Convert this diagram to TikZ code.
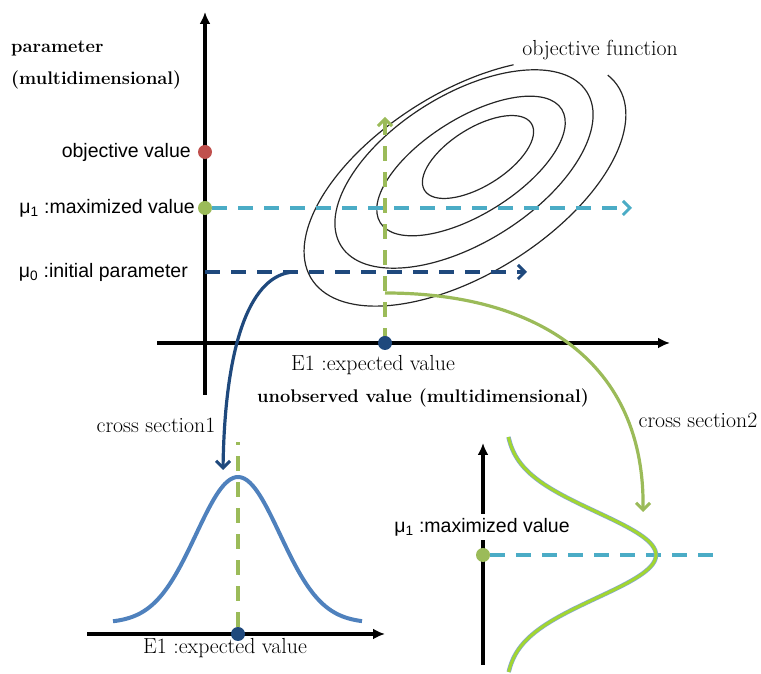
\documentclass[tikz,border=0pt]{standalone}
\usepackage{fontspec}
\usepackage{xcolor}
\usepackage{tikz}
\usetikzlibrary{arrows.meta}
\newfontfamily\labelfont{Liberation Sans}
\definecolor{objred}{HTML}{C0504D}
\definecolor{optgreen}{HTML}{9BBB59}
\definecolor{lightblue}{HTML}{4BACC6}
\definecolor{darkblue}{HTML}{1F497D}
\definecolor{curveblue}{HTML}{4F81BD}
\definecolor{limegreen}{HTML}{A2D630}

\begin{document}
\begin{tikzpicture}[x=1pt,y=1pt,
    axis/.style={line width=3.4pt,-{Latex[length=12pt,width=11pt]}},
    dot/.style={circle,inner sep=0pt,minimum size=14pt},
    dashline/.style={line width=3.4pt,dash pattern=on 15pt off 11pt},
    barb/.style={-{Straight Barb[length=7pt,width=14pt,line width=3pt]}},
    contour/.style={line width=1.2pt,black!85},
    sanslabel/.style={font=\labelfont\fontsize{19.5}{21}\selectfont,inner sep=1pt},
    seriflabel/.style={font=\fontsize{21.8}{24}\selectfont,inner sep=1pt},
    boldlabel/.style={font=\bfseries\fontsize{18.3}{20}\selectfont,inner sep=1pt}]
    \useasboundingbox (0,0) rectangle (761,674);
    % upper picture: parameter against unobserved value
    \begin{scope}
        \coordinate (vbot) at (205,279);
        \coordinate (vtop) at (205,662);
        \coordinate (hleft) at (157,331);
        \coordinate (hright) at (670,331);
        \draw[axis] (vbot) -- (vtop);
        \draw[axis] (hleft) -- (hright);
        \node[boldlabel,anchor=west] (partitle) at (10,626) {parameter};
        \node[boldlabel,anchor=west] (pardim) at (10,594) {(multidimensional)};
        \node[boldlabel] (unobs) at (423,276) {unobserved value (multidimensional)};
        % contours of the objective function
        \foreach \cx/\cy/\a/\b in {478/517/63/29,471/508/107/48,464/505/145/74}
            \draw[contour,rotate around={32:(\cx,\cy)}] (\cx,\cy) ellipse[x radius=\a,y radius=\b];
        \draw[contour,rotate around={32:(465,491)}] (465,491) ++(55:181 and 91)
            arc[start angle=55,end angle=370,x radius=181,y radius=91];
        \node[seriflabel] (objf) at (600,624) {objective function};
        % values on the parameter axis
        \node[dot,fill=objred] (objv) at (205,522) {};
        \node[dot,fill=optgreen] (mu1) at (205,466) {};
        \coordinate (mu0) at (205,402);
        \node[sanslabel,anchor=east] (objvlab) at (192,522) {objective value};
        \node[sanslabel,anchor=east] (mu1lab) at (196,466) {μ\textsubscript{1} :maximized value};
        \node[sanslabel,anchor=east] (mu0lab) at (189,402) {μ\textsubscript{0} :initial parameter};
        \coordinate (mu1end) at (632,466);
        \coordinate (mu0end) at (527,402);
        \draw[dashline,lightblue,barb] (mu1) -- (mu1end);
        \draw[dashline,darkblue,barb] (mu0) -- (mu0end);
        % expected value
        \coordinate (e1top) at (385,557);
        \draw[dashline,optgreen,barb] (385,331) -- (e1top);
        \node[dot,fill=darkblue] (e1) at (385,331) {};
        \node[seriflabel] (e1lab) at (373,309) {E1 :expected value};
        % cross sections
        \coordinate (cs1start) at (294,402);
        \coordinate (cs1end) at (223,204);
        \draw[line width=3.2pt,darkblue,barb] (cs1start) .. controls (252,400) and (225,335) .. (cs1end);
        \coordinate (cs2start) at (385,381);
        \coordinate (cs2end) at (643,162);
        \draw[line width=3.2pt,optgreen,barb] (cs2start) .. controls (540,381) and (645,310) .. (cs2end);
        \node[seriflabel] (cs1lab) at (156,249) {cross section1};
        \node[seriflabel] (cs2lab) at (698,254) {cross section2};
    \end{scope}
    % cross section 1
    \begin{scope}
        \coordinate (aleft) at (87,40);
        \coordinate (aright) at (385,40);
        \draw[axis] (aleft) -- (aright);
        \draw[line width=4pt,curveblue] plot[domain=-125:124,samples=90,smooth]
            ({238+\x},{51+146*exp(-0.5*(\x/42)^2)});
        \coordinate (peak1) at (238,232);
        \node[dot,fill=darkblue] (e1b) at (238,40) {};
        \draw[dashline,optgreen] (e1b) -- (peak1);
        \node[seriflabel] (e1blab) at (225,26) {E1 :expected value};
    \end{scope}
    % cross section 2
    \begin{scope}
        \coordinate (bbot) at (483,9);
        \coordinate (btop) at (483,231);
        \draw[axis] (bbot) -- (btop);
        \node[sanslabel,fill=white,inner sep=4pt] (mu1blab) at (482,147) {μ\textsubscript{1} :maximized value};
        \node[dot,fill=optgreen] (mu1b) at (483,119) {};
        \coordinate (mu1bend) at (717,119);
        \draw[dashline,lightblue] (mu1b) -- (mu1bend);
        \draw[line width=4.4pt,curveblue!70] plot[domain=-117:118,samples=90,smooth]
            ({505+151*exp(-0.5*(\x/43)^2)},{119+\x});
        \draw[line width=3pt,limegreen] plot[domain=-117:118,samples=90,smooth]
            ({505+151*exp(-0.5*(\x/43)^2)},{119+\x});
    \end{scope}
\end{tikzpicture}
\end{document}
